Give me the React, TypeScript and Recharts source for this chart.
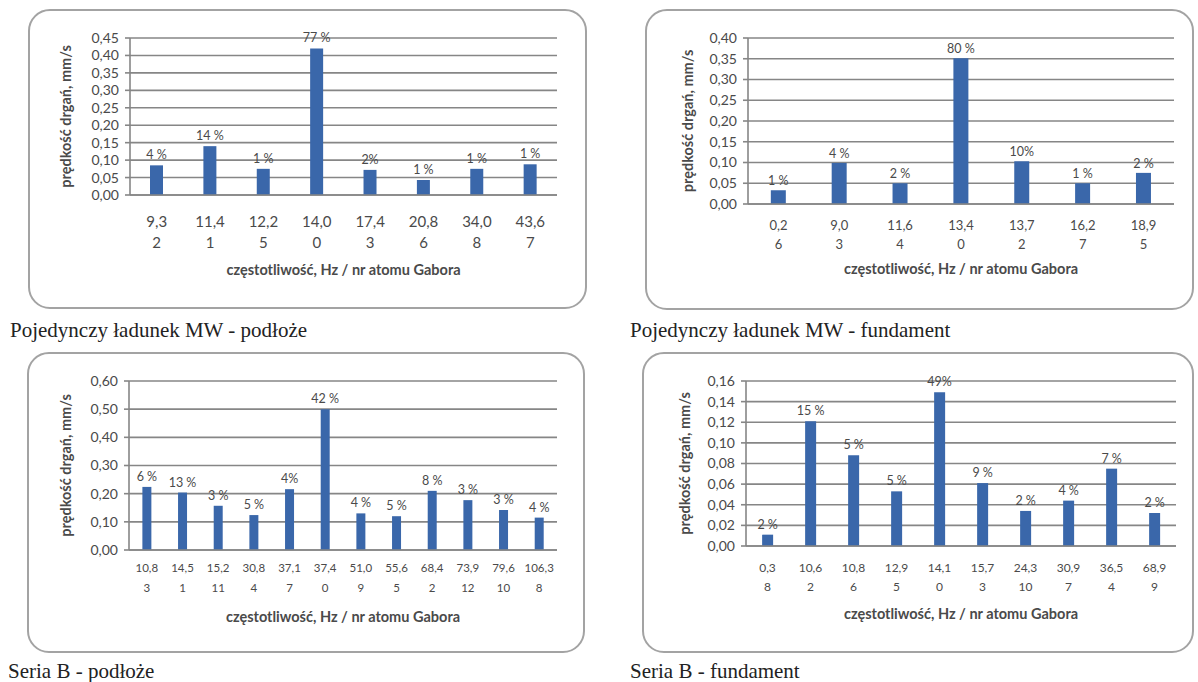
import React from 'react';
import { BarChart, Bar, XAxis, YAxis, CartesianGrid, LabelList } from 'recharts';

// Pojedynczy ładunek MW - podłoże
const mwGroundFreq = ['9,3', '11,4', '12,2', '14,0', '17,4', '20,8', '34,0', '43,6'];
const mwGroundAtom = ['2', '1', '5', '0', '3', '6', '8', '7'];
const mwGroundValue = [0.085, 0.14, 0.075, 0.42, 0.072, 0.043, 0.075, 0.088];
const mwGroundShare = ['4 %', '14 %', '1 %', '77 %', '2%', '1 %', '1 %', '1 %'];
const mwGroundTicks = [0, 0.05, 0.1, 0.15, 0.2, 0.25, 0.3, 0.35, 0.4, 0.45];

// Pojedynczy ładunek MW - fundament
const mwFoundFreq = ['0,2', '9,0', '11,6', '13,4', '13,7', '16,2', '18,9'];
const mwFoundAtom = ['6', '3', '4', '0', '2', '7', '5'];
const mwFoundValue = [0.033, 0.099, 0.05, 0.351, 0.103, 0.05, 0.075];
const mwFoundShare = ['1 %', '4 %', '2 %', '80 %', '10%', '1 %', '2 %'];
const mwFoundTicks = [0, 0.05, 0.1, 0.15, 0.2, 0.25, 0.3, 0.35, 0.4];

// Seria B - podłoże
const bGroundFreq = ['10,8', '14,5', '15,2', '30,8', '37,1', '37,4', '51,0', '55,6', '68,4', '73,9', '79,6', '106,3'];
const bGroundAtom = ['3', '1', '11', '4', '7', '0', '9', '5', '2', '12', '10', '8'];
const bGroundValue = [0.224, 0.204, 0.157, 0.124, 0.216, 0.5, 0.13, 0.12, 0.21, 0.177, 0.142, 0.115];
const bGroundShare = ['6 %', '13 %', '3 %', '5 %', '4%', '42 %', '4 %', '5 %', '8 %', '3 %', '3 %', '4 %'];
const bGroundTicks = [0, 0.1, 0.2, 0.3, 0.4, 0.5, 0.6];

// Seria B - fundament
const bFoundFreq = ['0,3', '10,6', '10,8', '12,9', '14,1', '15,7', '24,3', '30,9', '36,5', '68,9'];
const bFoundAtom = ['8', '2', '6', '5', '0', '3', '10', '7', '4', '9'];
const bFoundValue = [0.011, 0.121, 0.088, 0.053, 0.149, 0.061, 0.034, 0.044, 0.075, 0.032];
const bFoundShare = ['2 %', '15 %', '5 %', '5 %', '49%', '9 %', '2 %', '4 %', '7 %', '2 %'];
const bFoundTicks = [0, 0.02, 0.04, 0.06, 0.08, 0.1, 0.12, 0.14, 0.16];

const FONT = 'Lato, "Liberation Sans", sans-serif';
const GRID = '#868686';
const BAR = '#3a67aa';
const TEXT = '#4a4a4a';

const fmt = (v: number) => v.toFixed(2).replace('.', ',');

function Panel(props: any) {
  const { box, plot, freq, atom, value, share, ticks, yTitleX, tickFont, line1, line2, titleDy, labelOffset } = props;
  const data = freq.map((f: string, i: number) => ({ freq: f, atom: atom[i], value: value[i], share: share[i] }));
  const yAxisWidth = plot.left - box.left - 5;
  const margin = { top: plot.top - box.top, right: box.left + box.width - plot.right, bottom: 5, left: 5 };
  const xAxisHeight = box.top + box.height - plot.bottom - 5;
  const axisY = plot.bottom - box.top;

  const XTick = (p: any) => {
    const idx = p.index ?? p.payload?.index ?? 0;
    return (
      <g>
        <text x={p.x} y={axisY + line1} textAnchor="middle" fill={TEXT} fontSize={tickFont} fontFamily={FONT}>
          {p.payload.value}
        </text>
        <text x={p.x} y={axisY + line2} textAnchor="middle" fill={TEXT} fontSize={tickFont} fontFamily={FONT}>
          {atom[idx]}
        </text>
      </g>
    );
  };

  const ShareLabel = (p: any) => (
    <text
      x={Number(p.x) + Number(p.width) / 2} y={Number(p.y) - labelOffset} textAnchor="middle"
      fill={TEXT} fontSize={12.5} fontFamily={FONT}
    >
      {p.value}
    </text>
  );

  const yCx = yTitleX - box.left;
  const yCy = (plot.top + plot.bottom) / 2 - box.top;
  const xCx = (plot.left + plot.right) / 2 - box.left;
  const xCy = axisY + titleDy;

  return (
    <div style={{ position: 'absolute', left: box.left, top: box.top, width: box.width, height: box.height }}>
      <div
        style={{
          position: 'absolute', left: 0, top: 0, width: box.width, height: box.height, boxSizing: 'border-box',
          border: '2px solid #a3a3a3', borderRadius: 22, background: '#fff',
        }}
      />
      <div style={{ position: 'absolute', left: 0, top: 0 }}>
        <BarChart width={box.width} height={box.height} data={data} margin={margin} barCategoryGap="37.5%">
          <CartesianGrid vertical={false} stroke={GRID} strokeWidth={1.6} />
          <XAxis
            dataKey="freq"
            height={xAxisHeight}
            tickLine={false}
            tickSize={0}
            tickMargin={0}
            axisLine={{ stroke: GRID, strokeWidth: 1.6 }}
            tick={<XTick />}
            interval={0}
          />
          <YAxis
            width={yAxisWidth}
            domain={[0, ticks[ticks.length - 1]]}
            ticks={ticks}
            interval={0}
            tickFormatter={fmt}
            tickSize={5}
            tickMargin={6}
            tickLine={{ stroke: GRID, strokeWidth: 1.6 }}
            axisLine={{ stroke: GRID, strokeWidth: 1.6 }}
            tick={{ fill: TEXT, fontSize: 14, fontFamily: FONT }}
          />
          <Bar dataKey="value" fill={BAR} isAnimationActive={false}>
            <LabelList dataKey="share" content={<ShareLabel />} />
          </Bar>
          <text
            x={yCx} y={yCy} transform={`rotate(-90 ${yCx} ${yCy})`} textAnchor="middle" dominantBaseline="central"
            fill={TEXT} fontSize={14.5} fontWeight="bold" fontFamily={FONT}
          >
            prędkość drgań, mm/s
          </text>
          <text x={xCx} y={xCy} textAnchor="middle" fill={TEXT} fontSize={14.5} fontWeight="bold" fontFamily={FONT}>
            częstotliwość, Hz / nr atomu Gabora
          </text>
        </BarChart>
      </div>
    </div>
  );
}

const captionStyle: React.CSSProperties = {
  position: 'absolute', fontFamily: '"Liberation Serif", "Times New Roman", serif', fontSize: 21, color: '#222',
  whiteSpace: 'nowrap', lineHeight: '21px',
};

export default function App() {
  return (
    <div style={{ position: 'absolute', left: 0, top: 0, width: 1198, height: 682, background: '#fff', overflow: 'hidden' }}>
      <Panel
        box={{ left: 28, top: 9, width: 559, height: 300 }}
        plot={{ left: 130, top: 38, right: 557, bottom: 195 }}
        freq={mwGroundFreq} atom={mwGroundAtom} value={mwGroundValue} share={mwGroundShare} ticks={mwGroundTicks}
        yTitleX={65} tickFont={15} line1={32} line2={53} titleDy={80} labelOffset={6}
      />
      <Panel
        box={{ left: 645, top: 9, width: 549, height: 301 }}
        plot={{ left: 748, top: 38, right: 1174, bottom: 204 }}
        freq={mwFoundFreq} atom={mwFoundAtom} value={mwFoundValue} share={mwFoundShare} ticks={mwFoundTicks}
        yTitleX={687} tickFont={13} line1={26} line2={45} titleDy={70} labelOffset={5}
      />
      <Panel
        box={{ left: 27, top: 352, width: 558, height: 301 }}
        plot={{ left: 129, top: 381, right: 557, bottom: 550 }}
        freq={bGroundFreq} atom={bGroundAtom} value={bGroundValue} share={bGroundShare} ticks={bGroundTicks}
        yTitleX={65} tickFont={11.5} line1={22} line2={42} titleDy={72} labelOffset={6}
      />
      <Panel
        box={{ left: 642, top: 352, width: 552, height: 301 }}
        plot={{ left: 746, top: 381, right: 1176, bottom: 546 }}
        freq={bFoundFreq} atom={bFoundAtom} value={bFoundValue} share={bFoundShare} ticks={bFoundTicks}
        yTitleX={684} tickFont={12} line1={26} line2={45} titleDy={73} labelOffset={6}
      />
      <div style={{ ...captionStyle, left: 10, top: 320 }}>Pojedynczy ładunek MW - podłoże</div>
      <div style={{ ...captionStyle, left: 630, top: 320 }}>Pojedynczy ładunek MW - fundament</div>
      <div style={{ ...captionStyle, left: 8, top: 661 }}>Seria B - podłoże</div>
      <div style={{ ...captionStyle, left: 630, top: 661 }}>Seria B - fundament</div>
    </div>
  );
}
